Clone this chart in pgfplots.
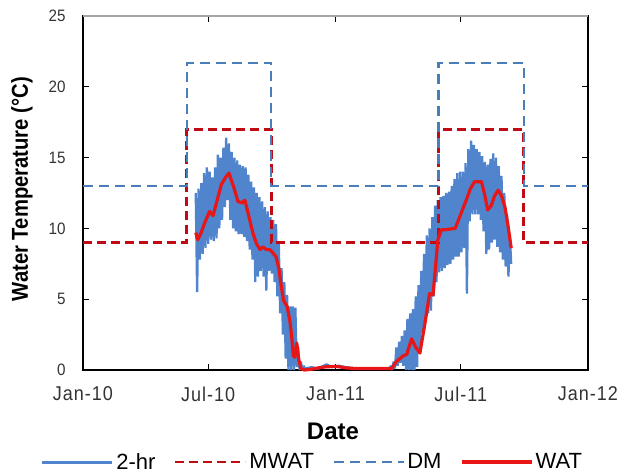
\documentclass[border=0pt]{standalone}
\usepackage{pgfplots}
\pgfplotsset{compat=1.18}
\usepackage{fontspec}
\setmainfont{Liberation Sans}
\newfontfamily\tickfont[FakeStretch=0.92]{Liberation Sans}
\newfontfamily\xtickfont[FakeStretch=0.9, LetterSpace=5]{Liberation Sans}
\newfontfamily\labfont[FakeStretch=0.88]{Liberation Sans}
\definecolor{blueband}{RGB}{80,132,204}
\definecolor{watred}{RGB}{232,22,22}
\definecolor{mwatred}{RGB}{192,10,20}
\definecolor{dmblue}{RGB}{74,126,187}
\begin{document}
\begin{tikzpicture}
\path[use as bounding box] (-83pt,-103pt) rectangle (536pt,370pt);
\begin{axis}[
  at={(0pt,0pt)}, anchor=south west,
  scale only axis, width=505pt, height=354pt,
  xmin=0, xmax=730, ymin=0, ymax=25,
  clip=false,
  xtick={0,181,365,546,730},
  xticklabels={Jan-10,Jul-10,Jan-11,Jul-11,Jan-12},
  ytick={0,5,10,15,20,25},
  /pgf/number format/assume math mode=true,
  tick align=inside,
  major tick length=6pt,
  tick style={black, line width=0.9pt},
  axis line style={black, line width=1.2pt},
  xticklabel style={font=\xtickfont\fontsize{20}{23}\selectfont, text=black!80, yshift=-13pt},
  yticklabel style={font=\tickfont\fontsize{16.5}{19}\selectfont, text=black!80, xshift=-14pt},
  xlabel={Date},
  ylabel={Water Temperature (°C)},
  every axis x label/.style={at={(rel axis cs:0.495,0)}, yshift=-61.5pt, anchor=center,
     font=\fontsize{24}{28}\selectfont\bfseries},
  every axis y label/.style={at={(rel axis cs:0,0.511)}, xshift=-61pt, anchor=center, rotate=90,
     font=\labfont\fontsize{23}{27}\selectfont\bfseries},
  legend columns=4,
  legend style={draw=none, fill=none, at={(0.455,-0.26)}, anchor=center,
     font=\fontsize{22}{26}\selectfont,
     /tikz/every even column/.append style={column sep=16pt},
     nodes={inner sep=2.5pt}},
  legend image code/.code={\draw[#1] (0pt,0pt) -- (70pt,0pt);},
]
% 2-hr series (zigzag of the logged readings)
\addplot[blueband, line width=2.3pt, line join=bevel, legend image post style={line width=3pt}] coordinates {
(163,12.5)(165,5.5)(167,12.8)(169,7.8)(171,13.2)(173,8.2)(175,13.9)(177,8.6)(179,14.3)(181,8.9)
(183,14.0)(185,9.2)(187,13.6)(189,9.1)(191,14.3)(193,9.3)(195,15.2)(197,10.0)(199,15.0)(201,10.6)
(203,15.7)(205,11.5)(207,16.4)(209,12.0)(211,16.0)(213,10.6)(215,15.4)(217,10.0)(219,15.0)(221,9.8)
(223,14.8)(225,9.6)(227,14.5)(229,9.6)(231,14.4)(233,9.4)(235,14.3)(237,9.1)(239,13.8)(241,8.5)
(243,13.3)(245,7.8)(247,12.9)(249,6.2)(251,12.5)(253,6.6)(255,12.2)(257,7.0)(259,11.9)(261,6.6)
(263,11.5)(265,5.6)(267,11.2)(269,7.0)(271,10.8)(273,6.8)(275,10.6)(277,6.2)(279,10.3)(281,5.2)
(283,9.0)(285,4.0)(287,7.2)(289,2.5)(291,6.2)(293,0.8)(295,5.3)(297,0.0)(299,4.5)(301,0.0)
(303,4.5)(305,0.0)(307,4.4)(309,0.2)(311,1.6)(313,0.0)(315,0.6)(317,0.0)(319,0.3)
(321,0.1)(330,0.2)(340,0.1)(352,0.4)(360,0.2)(370,0.3)(380,0.2)(395,0.1)(410,0.1)(425,0.1)(440,0.1)
(443,0.1)(445,0.3)(447,0.0)(449,0.6)(451,0.1)(453,1.6)(455,0.3)(457,2.0)(459,0.5)(461,2.4)
(463,0.3)(465,2.8)(467,0.0)(469,3.6)(471,0.0)(473,4.0)(475,0.0)(477,4.3)(479,0.0)(481,5.2)
(483,0.2)(485,6.0)(487,1.5)(489,7.0)(491,2.6)(493,8.2)(495,3.5)(497,9.5)(499,4.0)(501,10.0)
(503,4.2)(505,10.8)(507,5.2)(509,11.6)(511,6.2)(513,12.0)(515,6.9)(517,12.2)(519,7.0)(521,12.3)
(523,7.2)(525,12.5)(527,7.4)(529,12.6)(531,7.5)(533,13.0)(535,7.8)(537,13.5)(539,8.0)(541,13.9)
(543,8.0)(545,14.0)(547,8.3)(549,14.0)(551,8.6)(553,14.6)(555,5.4)(557,15.6)(559,10.5)(561,16.2)
(563,11.0)(565,15.9)(567,11.0)(569,15.6)(571,11.0)(573,15.4)(575,10.6)(577,15.1)(579,9.8)(581,14.7)
(583,8.2)(585,14.5)(587,8.5)(589,14.9)(591,9.0)(593,15.3)(595,9.2)(597,15.0)(599,8.7)(601,14.4)
(603,8.3)(605,13.7)(607,7.8)(609,12.5)(611,7.3)(613,11.0)(615,6.6)(617,9.5)(619,7.5)
};
\addlegendentry{2-hr}
% MWAT
\addplot[mwatred, line width=2.8pt, dash pattern=on 9pt off 5pt] coordinates {
(0,9)(150,9)(150,17)(272,17)(272,9)(514,9)(514,17)(637,17)(637,9)(730,9)};
\addlegendentry{MWAT}
% DM
\addplot[dmblue, line width=2.2pt, dash pattern=on 10pt off 6pt] coordinates {
(0,13)(150,13)(150,21.7)(272,21.7)(272,13)(514,13)(514,21.7)(637,21.7)(637,13)(730,13)};
\addlegendentry{DM}
% WAT
\addplot[watred, line width=3.2pt, line join=round] coordinates {
(163,9.7)(166,9.2)(170,9.6)(176,10.4)(183,11.2)(188,10.9)(194,12.0)(200,13.1)(206,13.6)(211,13.9)
(218,12.9)(224,11.9)(230,11.8)(234,12.0)(240,10.8)(246,9.6)(251,8.9)(256,8.5)(260,8.7)(265,8.5)
(270,8.5)(274,8.3)(279,8.0)(283,7.2)(287,5.8)(290,4.9)(295,4.5)(299,3.5)(302,2.2)(304,1.0)
(306,0.9)(309,1.9)(312,0.7)(315,0.1)(320,0.0)(330,0.05)(340,0.15)(352,0.23)(367,0.25)(380,0.15)
(395,0.1)(420,0.1)(446,0.1)(453,0.6)(463,1.0)(468,1.1)(475,2.2)(481,1.6)(487,1.2)(494,3.2)
(501,5.4)(506,5.3)(510,7.5)(513,9.2)(518,9.9)(523,9.9)(530,9.95)(538,10.0)(546,11.0)(554,12.0)
(560,12.8)(566,13.3)(576,13.3)(581,12.3)(585,11.3)(590,11.6)(595,12.3)(600,12.7)(605,12.3)(610,11.5)
(615,10.0)(619,8.6)};
\addlegendentry{WAT}
\draw[gray!70, line width=1.2pt] (rel axis cs:0,1) -- (rel axis cs:1,1);
\end{axis}
\end{tikzpicture}
\end{document}
